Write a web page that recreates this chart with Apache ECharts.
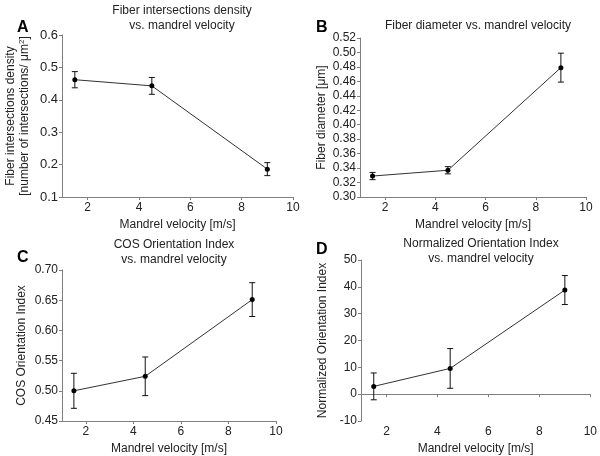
<!DOCTYPE html>
<html>
<head>
<meta charset="utf-8">
<script src="https://cdn.jsdelivr.net/npm/echarts@6/dist/echarts.min.js"></script>
<style>html,body{margin:0;padding:0;background:#fff}#c{width:600px;height:456px}</style>
</head>
<body>
<div id="c"></div>
<script>
var velocity = [1.5, 4.5, 9];
var densityMean = [0.462, 0.443, 0.186];
var densityErr = [0.025, 0.026, 0.020];
var diameterMean = [0.329, 0.337, 0.479];
var diameterErr = [0.005, 0.005, 0.020];
var cosMean = [0.500, 0.524, 0.651];
var cosErr = [0.029, 0.032, 0.028];
var normMean = [2.9, 9.6, 38.8];
var normErr = [5.0, 7.4, 5.4];
var xTicks = [2, 4, 6, 8, 10];

var FONT = 'Liberation Sans, Arial, sans-serif';
var panels = [
  {letter:'A', title:'Fiber intersections density\nvs. mandrel velocity', mean:densityMean, err:densityErr,
   grid:{left:62, top:35, width:231, height:162}, ymin:0.1, ymax:0.6, yint:0.1, dec:1, ysize:13,
   yname:'{a|Fiber intersections density}\n{a|[number of intersections/ μm}{s|2}{a|]}', ygap:30,
   titlePos:[177, -2], letterPos:[17, 20]},
  {letter:'B', title:'Fiber diameter vs. mandrel velocity', mean:diameterMean, err:diameterErr,
   grid:{left:360, top:38, width:226, height:159}, ymin:0.30, ymax:0.52, yint:0.02, dec:2, ysize:12,
   yname:'{a|Fiber diameter [μm]}', ygap:31,
   titlePos:[473, 13], letterPos:[316, 20]},
  {letter:'C', title:'COS Orientation Index\nvs. mandrel velocity', mean:cosMean, err:cosErr,
   grid:{left:62, top:270, width:214, height:151}, ymin:0.45, ymax:0.70, yint:0.05, dec:2, ysize:12,
   yname:'{a|COS Orientation Index}', ygap:33,
   titlePos:[169, 232], letterPos:[17, 250]},
  {letter:'D', title:'Normalized Orientation Index\nvs. mandrel velocity', mean:normMean, err:normErr,
   grid:{left:361, top:260, width:230, height:161}, ymin:-10, ymax:50, yint:10, dec:0, ysize:12,
   yname:'{a|Normalized Orientation Index}', ygap:31,
   titlePos:[476, 231], letterPos:[316, 242]}
];

var option = {animation:false, backgroundColor:'#fff', grid:[], xAxis:[], yAxis:[], series:[], title:[], graphic:[]};
var axisCol = '#7f7f7f';
panels.forEach(function(p, i){
  option.grid.push(p.grid);
  option.xAxis.push({type:'value', gridIndex:i, min:1, max:10, interval:2, 
    name:'Mandrel velocity [m/s]', nameLocation:'middle', nameGap:22,
    nameTextStyle:{fontFamily:FONT, fontSize:12, color:'#222'},
    axisLine:{show:true, lineStyle:{color:axisCol, width:1}},
    axisTick:{show:true, length:3, lineStyle:{color:axisCol}, customValues:xTicks},
    axisLabel:{fontFamily:FONT, fontSize:12, color:'#222', margin:5, customValues:xTicks},
    splitLine:{show:false}});
  option.yAxis.push({type:'value', gridIndex:i, min:p.ymin, max:p.ymax, interval:p.yint,
    name:p.yname, nameLocation:'middle', nameGap:p.ygap,
    nameTextStyle:{fontFamily:FONT, fontSize:12, color:'#222', lineHeight:14,
      rich:{a:{fontFamily:FONT, fontSize:12, color:'#222', lineHeight:14},
            s:{fontFamily:FONT, fontSize:8, color:'#222', verticalAlign:'top', lineHeight:14, padding:[0,0,6,0]}}},
    axisLine:{show:true, lineStyle:{color:axisCol, width:1}},
    axisTick:{show:true, length:3, lineStyle:{color:axisCol}},
    axisLabel:{fontFamily:FONT, fontSize:p.ysize, color:'#222', margin:4,
      formatter:(function(d){return function(v){return v.toFixed(d);};})(p.dec)},
    splitLine:{show:false}});
  var pts = velocity.map(function(v, k){return [v, p.mean[k]];});
  option.series.push({type:'line', xAxisIndex:i, yAxisIndex:i, data:pts, symbol:'circle', symbolSize:5,
    itemStyle:{color:'#000'}, lineStyle:{color:'#333', width:1}, z:3});
  var ebars = velocity.map(function(v, k){return [v, p.mean[k]-p.err[k], p.mean[k]+p.err[k]];});
  option.series.push({type:'custom', xAxisIndex:i, yAxisIndex:i, data:ebars, z:2,
    renderItem:function(params, api){
      var lo = api.coord([api.value(0), api.value(1)]);
      var hi = api.coord([api.value(0), api.value(2)]);
      var w = 3;
      var st = {stroke:'#111', lineWidth:1};
      return {type:'group', children:[
        {type:'line', shape:{x1:lo[0], y1:lo[1], x2:hi[0], y2:hi[1]}, style:st},
        {type:'line', shape:{x1:lo[0]-w, y1:lo[1], x2:lo[0]+w, y2:lo[1]}, style:st},
        {type:'line', shape:{x1:hi[0]-w, y1:hi[1], x2:hi[0]+w, y2:hi[1]}, style:st}
      ]};
    }});
  option.title.push({text:p.title, left:p.titlePos[0], top:p.titlePos[1], textAlign:'center',
    textStyle:{fontFamily:FONT, fontSize:12, fontWeight:'normal', color:'#222', lineHeight:15}});
  option.graphic.push({type:'text', left:p.letterPos[0], top:p.letterPos[1],
    style:{text:p.letter, font:'bold 16px ' + FONT, fill:'#000'}});
});

var chart = echarts.init(document.getElementById('c'), null, {renderer:'canvas'});
chart.setOption(option);
</script>
</body>
</html>
